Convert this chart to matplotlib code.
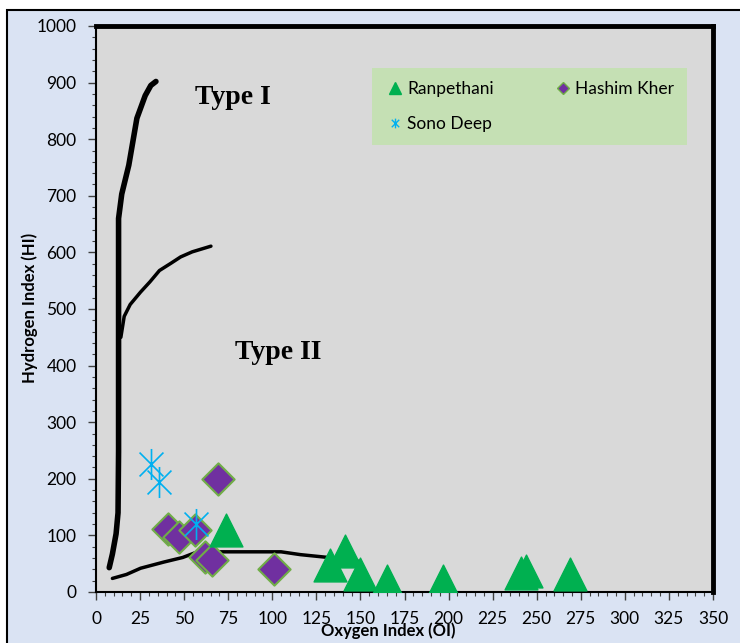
import numpy as np
import matplotlib
matplotlib.use('Agg')
import matplotlib.pyplot as plt
from matplotlib.path import Path
from matplotlib.lines import Line2D

# Data
ran_oi = [74, 133, 141, 150, 165, 197, 241, 244, 269]
ran_hi = [110, 48, 72, 32, 20, 20, 34, 37, 31]

hk_oi = [69, 41, 47, 56, 62, 66, 101]
hk_hi = [200, 112, 97, 110, 62, 57, 40]

sd_oi = [31, 36, 57]
sd_hi = [226, 194, 121]

# kerogen type boundary curves
type1_oi = [7.5, 9.3, 11.4, 12.5, 12.8, 12.8, 12.8, 12.8, 14.6, 18.6, 23.2, 27.9, 31.1, 34]
type1_hi = [43, 67, 103, 140, 248, 393, 566, 660, 703, 754, 837, 877, 895, 902]

type2_oi = [14.1, 16, 19.4, 25.3, 30.6, 36, 42.6, 48, 54.6, 65.2]
type2_hi = [450, 487, 508, 530, 548, 568, 581, 592, 601, 611]

type3_oi = [9.3, 17.3, 25.3, 38.6, 49.2, 55.9, 62.5, 105, 116, 131.8, 142, 149]
type3_hi = [24, 31, 42, 53, 61, 69, 71, 71, 66, 61, 59, 54]

plt.rcParams['font.family'] = ['Lato', 'DejaVu Sans']

fig = plt.figure(figsize=(7.4, 6.43), dpi=100)
fig.patch.set_facecolor('white')

# outer chart area
bg = plt.Rectangle((7/740, -0.1), 1.2, 1 - 10/643 + 0.1, transform=fig.transFigure,
                   facecolor='#dae3f3', edgecolor='black', linewidth=1.5, zorder=-10)
fig.patches.append(bg)

ax = fig.add_axes([96/740, 1 - 592/643, 617/740, 566/643])
ax.set_facecolor('#d9d9d9')

ax.plot(type1_oi, type1_hi, color='black', lw=4, solid_capstyle='round', zorder=2)
ax.plot(type2_oi, type2_hi, color='black', lw=2.5, solid_capstyle='round', zorder=2)
ax.plot(type3_oi, type3_hi, color='black', lw=2.5, solid_capstyle='round', zorder=2)

# asterisk marker like Excel's star: X plus vertical bar
star = Path([(-1, -1), (1, 1), (-1, 1), (1, -1), (0, -1.3), (0, 1.3)],
            [Path.MOVETO, Path.LINETO, Path.MOVETO, Path.LINETO, Path.MOVETO, Path.LINETO])

ax.scatter(hk_oi, hk_hi, marker='D', s=270, c='#7030a0', edgecolors='#70ad47', linewidths=1.5, zorder=3)
ax.scatter(sd_oi, sd_hi, marker=star, s=500, c='#00b0f0', linewidths=1.2, zorder=4)
ax.scatter(ran_oi, ran_hi, marker='^', s=560, c='#00b050', edgecolors='#00b050', zorder=5)

ax.text(56, 873, 'Type I', family='Liberation Serif', fontweight='bold', fontsize=20, va='center')
ax.text(79, 424, 'Type II', family='Liberation Serif', fontweight='bold', fontsize=20, va='center')

ax.set_xlim(0, 350)
ax.set_ylim(0, 1000)
ax.set_xticks(np.arange(0, 351, 25))
ax.set_yticks(np.arange(0, 1001, 100))
ax.set_xticks(np.arange(0, 351, 5), minor=True)
ax.set_yticks(np.arange(0, 1001, 20), minor=True)
ax.tick_params(axis='both', which='major', direction='out', length=6, width=1, color='#404040',
               labelsize=12.5, pad=8)
ax.tick_params(axis='both', which='minor', direction='out', length=3, width=0.8, color='#404040')

for s in ['left', 'bottom']:
    ax.spines[s].set_linewidth(1.5)
for s in ['top', 'right']:
    ax.spines[s].set_linewidth(3.5)

fig.text(30/740, 1 - 308/643, 'Hydrogen Index (HI)', rotation=90, fontsize=12, fontweight='bold',
         ha='center', va='center')
fig.text(388/740, 1 - 631/643, 'Oxygen Index (OI)', fontsize=12, fontweight='bold',
         ha='center', va='center')

# legend box (order gives row-wise layout in 2 columns)
handles = [Line2D([], [], ls='none', marker='^', ms=9, color='#00b050'),
           Line2D([], [], ls='none', marker=star, ms=7, color='#00b0f0'),
           Line2D([], [], ls='none', marker='D', ms=6, mfc='#7030a0', mec='#70ad47')]
labels = ['Ranpethani', 'Sono Deep', 'Hashim Kher']
x0 = (363 - 96) / 617
y0 = 1 - (143 - 26) / 566
leg = ax.legend(handles, labels, ncol=2, loc='upper left',
                bbox_to_anchor=(x0, y0, (696 - 363) / 617, (143 - 59) / 566),
                mode='expand', fontsize=12.5, frameon=True,
                facecolor='#c5e0b4', edgecolor='none', framealpha=1, fancybox=False,
                handletextpad=0.1, handlelength=1.2, labelspacing=1.1, borderpad=0.75, columnspacing=1)

fig.savefig('out.png', dpi=100)
